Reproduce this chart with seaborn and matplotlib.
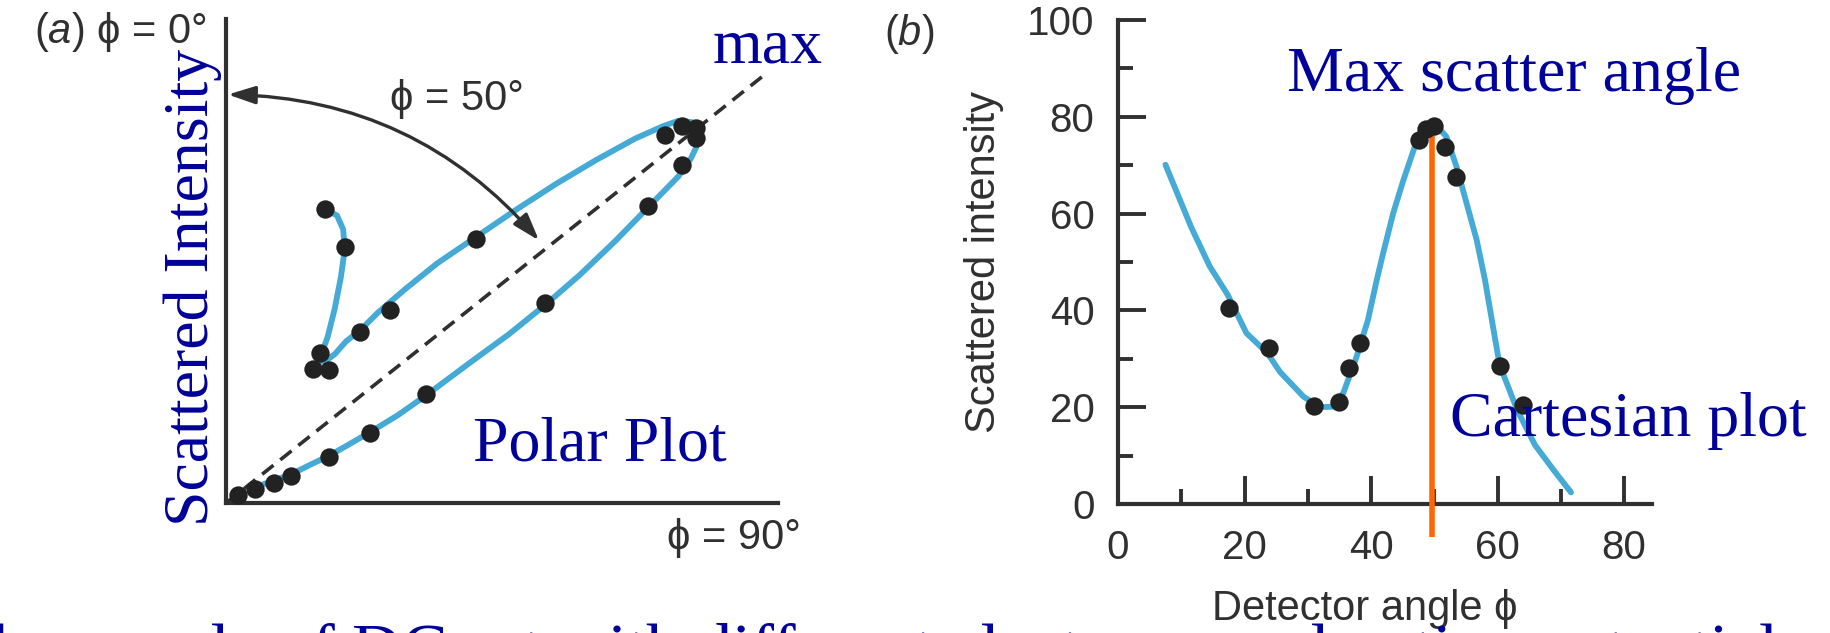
import numpy as np
import matplotlib
matplotlib.use('Agg')
import matplotlib.pyplot as plt
import seaborn as sns

# (b) cartesian scan: detector angle (deg) vs scattered intensity
scan_angle = [17.5, 23.9, 31.0, 35.0, 36.5, 38.3, 47.5, 48.7, 49.9, 51.7, 53.5, 60.3, 64.0]
scan_intensity = [40.4, 32.2, 20.2, 21.1, 28.0, 33.3, 75.3, 77.4, 78.0, 73.8, 67.6, 28.6, 20.5]

fit_angle = [7.5, 11.6, 14.5, 17.3, 20.3, 23.6, 25.6, 29.3, 31.9, 33.8, 35.6, 37.7, 39.5,
             40.9, 41.9, 43.5, 45.1, 46.9, 48.3, 49.8, 51.9, 53.5, 55.1, 56.7, 58.0,
             60.3, 63.1, 65.9, 68.8, 71.6]
fit_intensity = [70.1, 57.1, 49.1, 43.3, 35.3, 31.2, 27.3, 22.2, 20.0, 20.1, 22.9, 30.4, 38.0,
                 46.3, 51.8, 60.1, 66.9, 73.8, 77.3, 79.0, 75.9, 69.7, 62.1, 54.5, 46.3,
                 28.8, 19.4, 12.2, 7.1, 2.4]

max_angle = 49.7
max_intensity = 76.6

# (a) same scan drawn as polar plot, components I*sin(phi), I*cos(phi)
polar_dot_x = [1.6, 3.7, 6.2, 8.4, 13.3, 18.7, 26.0, 41.4, 54.7, 59.2, 61.0, 61.0, 59.1, 57.0,
               32.4, 21.3, 17.4, 12.2, 11.3, 13.4, 15.5, 12.9]
polar_dot_y = [1.1, 1.8, 2.6, 3.5, 6.0, 9.1, 14.1, 25.9, 38.6, 43.9, 47.3, 48.7, 48.9, 47.8,
               34.2, 25.1, 22.2, 19.4, 17.4, 17.3, 33.2, 38.1]

polar_curve_x = [12.9, 14.4, 15.2, 15.4, 14.9, 14.1, 13.2, 12.3, 12.2, 13.0, 14.1, 15.6, 17.4,
                 19.7, 23.3, 27.4, 32.4, 37.7, 42.8, 48.0, 53.1, 56.7, 58.7, 60.5, 61.4,
                 61.3, 60.3, 58.7, 54.7, 50.5, 45.9, 41.4, 36.7, 31.5, 26.0, 22.3, 18.7,
                 15.6, 13.3, 11.0, 8.4, 5.9, 3.9]
polar_curve_y = [38.1, 37.3, 35.5, 32.9, 29.3, 25.2, 21.6, 19.1, 18.3, 18.5, 19.3, 21.0, 22.4,
                 24.7, 27.8, 31.1, 34.5, 38.1, 41.4, 44.5, 47.3, 48.9, 49.6, 49.4, 48.3,
                 46.8, 44.7, 42.4, 38.3, 34.0, 29.6, 25.7, 21.9, 18.1, 14.0, 11.4, 9.2,
                 7.4, 6.1, 5.0, 3.7, 2.8, 2.1]

polar_max_angle = 51.5
polar_max_length = 88.8
arc_radius = 53.0
arc_angle = 50.0

blue = '#45abd6'
dot = '#222222'
navy = '#00009a'
grey = '#303030'
orange = '#ff6600'

sns.set_style('white')
plt.rcParams['font.family'] = ['Liberation Sans', 'DejaVu Sans']
plt.rcParams['mathtext.fontset'] = 'custom'
plt.rcParams['mathtext.it'] = 'Liberation Sans:italic'
plt.rcParams['mathtext.rm'] = 'Liberation Sans'
serif = ['Liberation Serif', 'DejaVu Serif']

fig = plt.figure(figsize=(18.3, 6.33), dpi=100)
W, H = 1830, 633
ax_a = fig.add_axes([226 / W, 1 - 503 / H, 552 / W, 484 / H])
ax_b = fig.add_axes([1118 / W, 1 - 504 / H, 534 / W, 484 / H])

# ---- (a) polar plot
ax_a.set_xlim(0, 71.6)
ax_a.set_ylim(0, 62.8)
for s in ['top', 'right']:
    ax_a.spines[s].set_visible(False)
for s in ['left', 'bottom']:
    ax_a.spines[s].set_linewidth(3)
    ax_a.spines[s].set_color(grey)
ax_a.set_xticks([])
ax_a.set_yticks([])

t = np.deg2rad(polar_max_angle)
ax_a.plot([0, polar_max_length * np.sin(t)], [0, polar_max_length * np.cos(t)],
          ls=(0, (4, 2.4)), lw=2.6, color=grey, zorder=3)
sns.lineplot(x=polar_curve_x, y=polar_curve_y, sort=False, estimator=None, ax=ax_a,
             color=blue, lw=4.2, zorder=2)
sns.scatterplot(x=polar_dot_x, y=polar_dot_y, ax=ax_a, color=dot, s=175,
                linewidth=0, zorder=4, clip_on=False)

a = np.deg2rad(arc_angle)
ax_a.annotate('', xy=(0.25, arc_radius), xytext=(arc_radius * np.sin(a), arc_radius * np.cos(a)),
              arrowprops=dict(arrowstyle='<|-|>,head_length=0.55,head_width=0.18',
                              connectionstyle='arc3,rad=%.3f' % np.tan(a / 4),
                              lw=2.4, color=grey, shrinkA=0, shrinkB=0, mutation_scale=30),
              zorder=5)

ax_a.text(-2.55, 61.1, r'($\mathit{a}$) ϕ = 0°', fontsize=30, color=grey, ha='right', va='center')
ax_a.text(21.3, 52.4, 'ϕ = 50°', fontsize=30, color=grey, ha='left', va='center')
ax_a.text(57.2, -4.5, 'ϕ = 90°', fontsize=30, color=grey, ha='left', va='center')
ax_a.text(63.1, 57.1, 'max', fontsize=46, color=navy, family=serif, ha='left', va='baseline')
ax_a.text(32.1, 5.45, 'Polar Plot', fontsize=46, color=navy, family=serif, ha='left', va='baseline')
ax_a.text(-4.37, 27.95, 'Scattered Intensity', fontsize=46, color=navy, family=serif,
          rotation=90, ha='center', va='center')

# ---- (b) cartesian plot
ax_b.set_xlim(0, 84.4)
ax_b.set_ylim(0, 100)
for s in ['top', 'right']:
    ax_b.spines[s].set_visible(False)
for s in ['left', 'bottom']:
    ax_b.spines[s].set_linewidth(3)
    ax_b.spines[s].set_color(grey)

sns.lineplot(x=fit_angle, y=fit_intensity, ax=ax_b, color=blue, lw=4.2, zorder=2)
ax_b.plot([max_angle, max_angle], [max_intensity, -6.8], color=orange, lw=4, zorder=3,
          clip_on=False, solid_capstyle='butt')
sns.scatterplot(x=scan_angle, y=scan_intensity, ax=ax_b, color=dot, s=175,
                linewidth=0, zorder=4, clip_on=False)

ax_b.set_xticks([0, 20, 40, 60, 80])
ax_b.set_xticks([10, 30, 50, 70], minor=True)
ax_b.set_yticks([0, 20, 40, 60, 80, 100])
ax_b.set_yticks([10, 30, 50, 70, 90], minor=True)
ax_b.tick_params(which='major', direction='in', length=20, width=2.8, color=grey,
                 labelsize=29, labelcolor=grey)
ax_b.tick_params(which='minor', direction='in', length=11, width=2.8, color=grey)
ax_b.tick_params(axis='y', which='major', pad=17)
ax_b.tick_params(axis='x', which='major', pad=18)
ax_b.tick_params(left=True, bottom=True, which='both')

ax_b.text(-0.251, 0.5, 'Scattered intensity', transform=ax_b.transAxes, fontsize=30,
          color=grey, rotation=90, ha='center', va='center')
ax_b.text(0.4625, -0.217, 'Detector angle ϕ', transform=ax_b.transAxes, fontsize=30,
          color=grey, ha='center', va='center', zorder=6)
ax_b.text(-37.0, 97.1, r'($\mathit{b}$)', fontsize=30, color=grey, ha='left', va='center')
ax_b.text(26.7, 85.3, 'Max scatter angle', fontsize=46, color=navy, family=serif,
          ha='left', va='baseline')
ax_b.text(52.4, 14.0, 'Cartesian plot', fontsize=46, color=navy, family=serif,
          ha='left', va='baseline', zorder=6)

# caption line, only the tops of its letters show above the bottom edge
fig.text(-93 / W, 1 - 672 / H, 'real example of DC set with different electron acceleration potentials',
         fontsize=49.5, color=navy, family=serif, ha='left', va='baseline')

fig.savefig('out.png', dpi=100)
